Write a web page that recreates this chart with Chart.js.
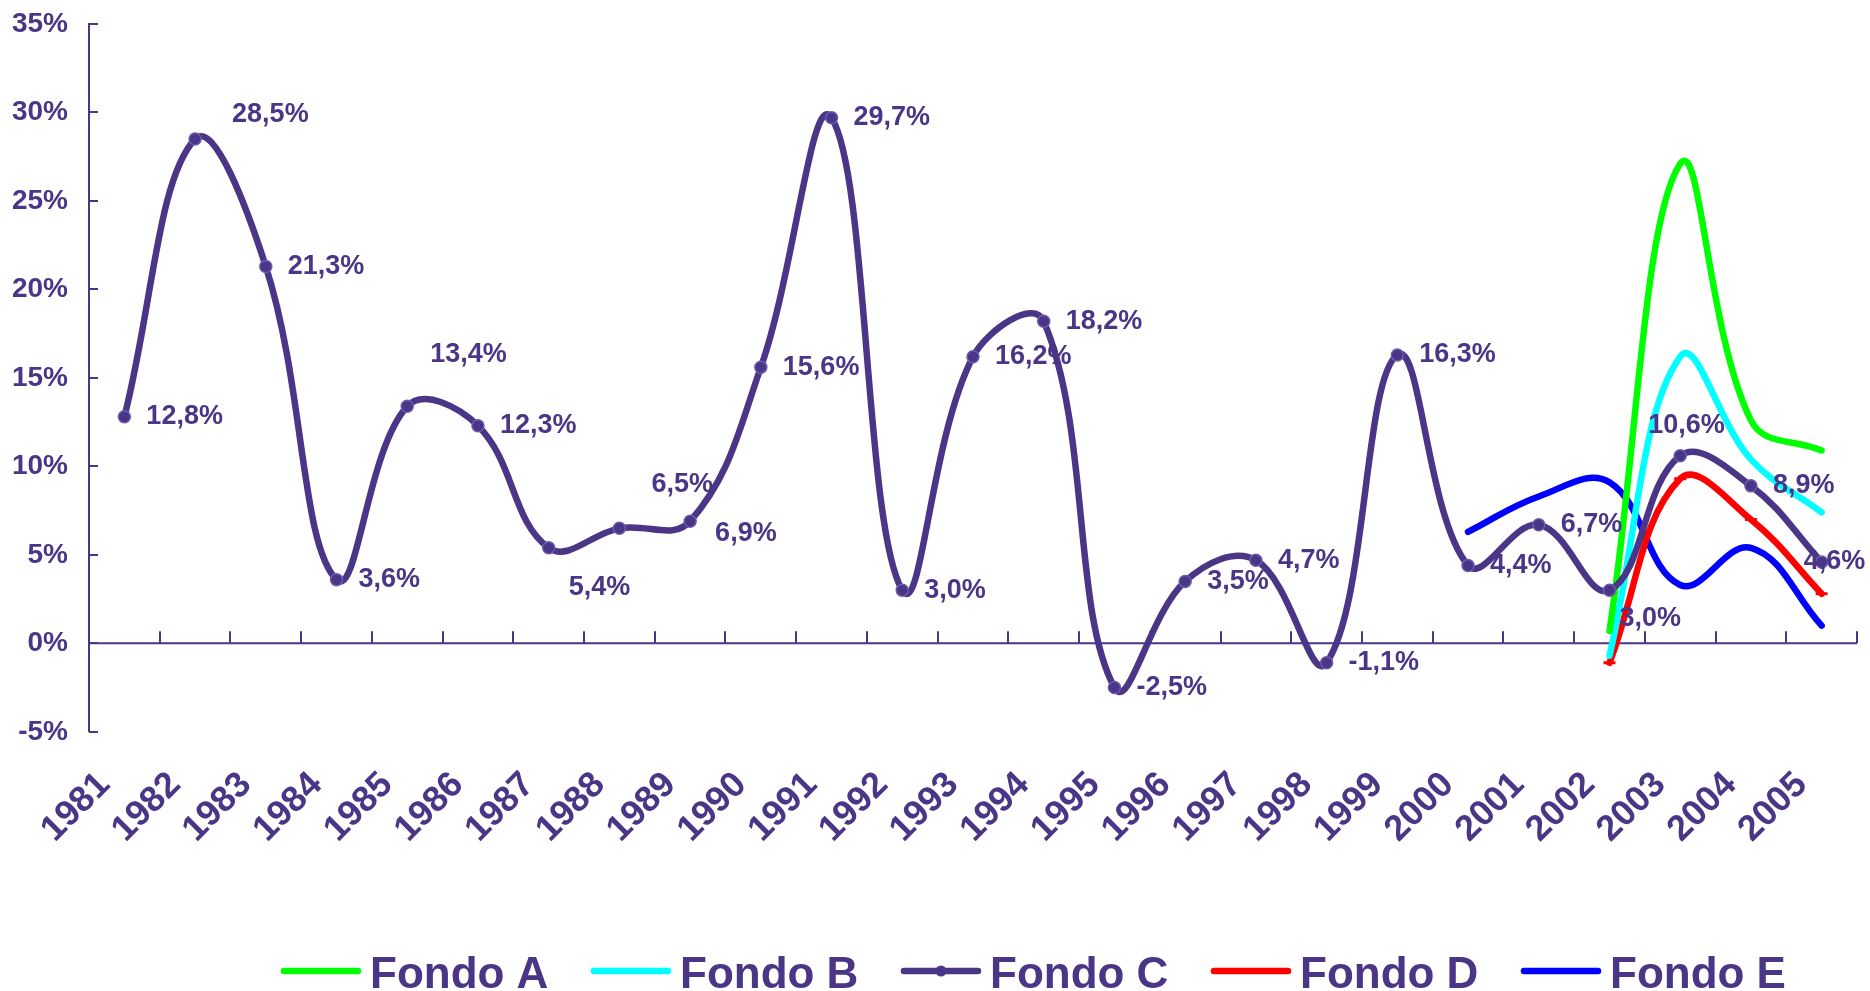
<!DOCTYPE html>
<html>
<head>
<meta charset="utf-8">
<title>Rentabilidad real Fondos A-E</title>
<script src="https://cdn.jsdelivr.net/npm/chart.js@4.4.1/dist/chart.umd.min.js"></script>
<style>
    html, body { margin: 0; padding: 0; background: #ffffff; overflow: hidden; }
    #wrap { width: 1870px; height: 991px; position: relative; }
</style>
</head>
<body>
<div id="wrap"><canvas id="fondosChart"></canvas></div>
<script>
// data (% real annual return)
const years = ['1981', '1982', '1983', '1984', '1985', '1986', '1987', '1988', '1989', '1990',
    '1991', '1992', '1993', '1994', '1995', '1996', '1997', '1998', '1999', '2000',
    '2001', '2002', '2003', '2004', '2005'];
const fondoC = [12.8, 28.5, 21.3, 3.6, 13.4, 12.3, 5.4, 6.5, 6.9, 15.6,
    29.7, 3.0, 16.2, 18.2, -2.5, 3.5, 4.7, -1.1, 16.3, 4.4,
    6.7, 3.0, 10.6, 8.9, 4.6];
const fondoAYears = ['2002', '2003', '2004', '2005'];
const fondoA = [0.7, 27.1, 12.6, 10.9];
const fondoB = [-0.7, 16.2, 10.4, 7.4];
const fondoD = [-1.1, 9.3, 7.0, 2.8];
const fondoEYears = ['2000', '2001', '2002', '2003', '2004', '2005'];
const fondoE = [6.3, 8.3, 9.1, 3.3, 5.4, 1.0];
const yTickValues = [-5, 0, 5, 10, 15, 20, 25, 30, 35];

const PURPLE = '#4a3587';
const FONT = 'Liberation Sans, Arial, sans-serif';

// where each Fondo C label sits relative to its point (px); default is to the right
const labelShift = {
    '1982': [37, -24], '1985': [23, -52], '1987': [20, 40], '1988': [32, -44],
    '1989': [25, 12], '2002': [10, 28], '2003': [-32, -30], '2005': [-18, 0]
};

function onYears(values, span) {
    return years.map(y => {
        const k = span.indexOf(y);
        return k >= 0 ? values[k] : null;
    });
}

function pct(v) {
    return v.toFixed(1).replace('.', ',') + '%';
}

const axisPlugin = {
    id: 'axisMarks',
    beforeDatasetsDraw(chart) {
        const ctx = chart.ctx;
        const x = chart.scales.x, y = chart.scales.y;
        const area = chart.chartArea;
        const y0 = y.getPixelForValue(0);
        const step = x.getPixelForValue(1) - x.getPixelForValue(0);
        ctx.save();
        ctx.strokeStyle = PURPLE;
        ctx.lineWidth = 2;
        ctx.beginPath();
        ctx.moveTo(area.left, y0);
        ctx.lineTo(area.right, y0);
        for (let i = 1; i <= years.length; i++) {
            const bx = Math.round(x.getPixelForValue(0) + (i - 0.5) * step);
            ctx.moveTo(bx, y0);
            ctx.lineTo(bx, y0 - 12);
        }
        yTickValues.forEach(v => {
            const ty = Math.round(y.getPixelForValue(v));
            ctx.moveTo(area.left, ty);
            ctx.lineTo(area.left + 9, ty);
        });
        ctx.stroke();
        ctx.restore();
    },
    afterDatasetsDraw(chart) {
        const ctx = chart.ctx;
        const meta = chart.getDatasetMeta(2);
        ctx.save();
        ctx.fillStyle = PURPLE;
        ctx.font = 'bold 27px ' + FONT;
        ctx.textAlign = 'left';
        ctx.textBaseline = 'middle';
        meta.data.forEach((pt, i) => {
            const s = labelShift[years[i]] || [22, 0];
            ctx.fillText(pct(fondoC[i]), pt.x + s[0], pt.y + s[1]);
        });
        ctx.restore();
    },
    afterDraw(chart) {
        // legend: line sample + name
        const ctx = chart.ctx;
        ctx.save();
        chart.data.datasets.forEach((ds, i) => {
            const lx = 284 + i * 310, ly = 971;
            ctx.strokeStyle = ds.borderColor;
            ctx.lineWidth = 6.5;
            ctx.lineCap = 'round';
            ctx.beginPath();
            ctx.moveTo(lx, ly);
            ctx.lineTo(lx + 74, ly);
            ctx.stroke();
            if (ds.pointRadius > 0 && ds.pointStyle === 'circle') {
                ctx.fillStyle = ds.pointBackgroundColor;
                ctx.beginPath();
                ctx.arc(lx + 37, ly, 5.5, 0, Math.PI * 2);
                ctx.fill();
            }
            ctx.fillStyle = PURPLE;
            ctx.font = 'bold 44px ' + FONT;
            ctx.textAlign = 'left';
            ctx.textBaseline = 'alphabetic';
            ctx.fillText(ds.label, lx + 86, 988);
        });
        ctx.restore();
    }
};

const lineBase = {
    borderWidth: 6.5,
    borderCapStyle: 'round',
    borderJoinStyle: 'round',
    tension: 0.4,
    pointRadius: 0,
    spanGaps: false,
    order: 1
};

const ctx = document.getElementById('fondosChart').getContext('2d');
const fondosChart = new Chart(ctx, {
    type: 'line',
    data: {
        labels: years,
        datasets: [
            Object.assign({}, lineBase, { label: 'Fondo A', data: onYears(fondoA, fondoAYears), borderColor: '#00ff00' }),
            Object.assign({}, lineBase, { label: 'Fondo B', data: onYears(fondoB, fondoAYears), borderColor: '#00ffff' }),
            Object.assign({}, lineBase, {
                label: 'Fondo C', data: fondoC, borderColor: PURPLE, order: 0,
                pointStyle: 'circle', pointRadius: 6, pointBackgroundColor: PURPLE,
                pointBorderColor: '#6a5bb0', pointBorderWidth: 1.5
            }),
            Object.assign({}, lineBase, {
                label: 'Fondo D', data: onYears(fondoD, fondoAYears), borderColor: '#ff0000',
                pointStyle: 'line', pointRadius: 6, pointBorderColor: '#ff0000', pointBorderWidth: 3
            }),
            Object.assign({}, lineBase, { label: 'Fondo E', data: onYears(fondoE, fondoEYears), borderColor: '#0000ff' })
        ]
    },
    options: {
        responsive: true,
        maintainAspectRatio: false,
        animation: false,
        layout: { padding: { top: 24, right: 13, bottom: 108, left: 12 } },
        plugins: {
            legend: { display: false },
            tooltip: { enabled: false }
        },
        scales: {
            x: {
                offset: true,
                grid: { display: false, drawTicks: false },
                border: { display: false },
                afterFit: scale => { scale.paddingLeft = 0; scale.paddingRight = 0; },
                ticks: {
                    autoSkip: false,
                    minRotation: 45,
                    maxRotation: 45,
                    padding: 32,
                    labelOffset: -20,
                    color: PURPLE,
                    font: { family: FONT, size: 36, weight: 'bold' }
                }
            },
            y: {
                min: -5,
                max: 35,
                afterBuildTicks: scale => { scale.ticks = yTickValues.map(v => ({ value: v })); },
                afterFit: scale => { scale.paddingTop = 0; scale.paddingBottom = 0; scale.width = 77; },
                grid: { display: false, drawTicks: false },
                border: { display: true, color: PURPLE, width: 2 },
                ticks: {
                    padding: 21,
                    color: PURPLE,
                    font: { family: FONT, size: 28, weight: 'bold' },
                    callback: v => v + '%'
                }
            }
        }
    },
    plugins: [axisPlugin]
});
</script>
</body>
</html>
